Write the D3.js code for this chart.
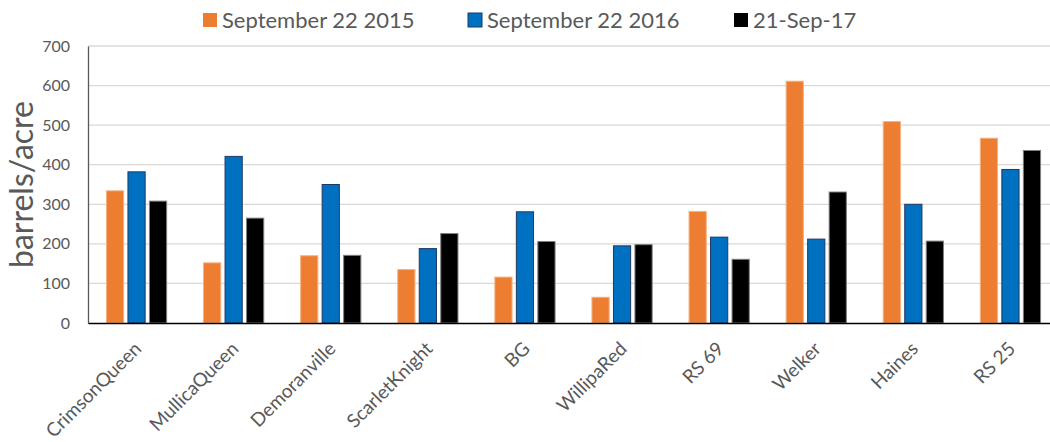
<!DOCTYPE html>
<html>
<head>
<meta charset="utf-8">
<script src="https://cdn.jsdelivr.net/npm/d3@7"></script>
<style>
  body { margin: 0; background: #fff; }
  text { font-family: Lato, "Open Sans", sans-serif; fill: #595959; }
</style>
</head>
<body>
<div id="chart"></div>
<script>
const categories = ["CrimsonQueen", "MullicaQueen", "Demoranville", "ScarletKnight", "BG",
  "WillipaRed", "RS 69", "Welker", "Haines", "RS 25"]
const seriesNames = ["September 22 2015", "September 22 2016", "21-Sep-17"]
const values2015 = [334, 152, 170, 135, 116, 65, 282, 611, 509, 467]
const values2016 = [382, 421, 350, 188, 281, 195, 217, 212, 300, 388]
const values2017 = [308, 265, 171, 226, 206, 198, 161, 331, 207, 436]
const yTicks = [0, 100, 200, 300, 400, 500, 600, 700]

const fills = ["#ED7D31", "#0070C0", "#000000"]
const strokes = ["#F4B183", "#1F3864", "#7F7F7F"]

const WIDTH = 1050, HEIGHT = 442
const MARGIN = { LEFT: 88, TOP: 46, BOTTOM: 119 }
const plotW = 971
const plotH = HEIGHT - MARGIN.TOP - MARGIN.BOTTOM

const data = categories.map((c, i) => ({
  cat: c,
  vals: [values2015[i], values2016[i], values2017[i]]
}))

const svg = d3.select("#chart").append("svg")
  .attr("width", WIDTH)
  .attr("height", HEIGHT)

const g = svg.append("g")
  .attr("transform", `translate(${MARGIN.LEFT}, ${MARGIN.TOP})`)

const x0 = d3.scaleBand()
  .domain(categories)
  .range([0, plotW])
  .paddingInner(0.38)
  .paddingOuter(0.19)

const x1 = d3.scaleBand()
  .domain(d3.range(seriesNames.length))
  .range([0, x0.bandwidth()])
  .paddingInner(0.2)

const y = d3.scaleLinear()
  .domain([0, 700])
  .range([plotH, 0])

// gridlines
g.append("g")
  .selectAll("line")
  .data(yTicks.filter(d => d > 0))
  .enter().append("line")
  .attr("x1", 0)
  .attr("x2", plotW)
  .attr("y1", d => y(d))
  .attr("y2", d => y(d))
  .attr("stroke", "#d9d9d9")
  .attr("stroke-width", 1.3)

// y axis
const yAxis = g.append("g")
  .call(d3.axisLeft(y).tickValues(yTicks).tickSize(0).tickPadding(18))
yAxis.select(".domain").attr("stroke", "#595959").attr("stroke-width", 1.3)
yAxis.selectAll("text")
  .attr("font-size", "16px")
  .style("font-family", "Lato, sans-serif")
  .attr("fill", "#595959")

// bars
const groups = g.selectAll(".grp")
  .data(data)
  .enter().append("g")
  .attr("class", "grp")
  .attr("transform", d => `translate(${x0(d.cat)}, 0)`)

groups.selectAll("rect")
  .data(d => d.vals.map((v, i) => ({ i, v })))
  .enter().append("rect")
  .attr("x", d => x1(d.i))
  .attr("y", d => y(d.v))
  .attr("width", x1.bandwidth())
  .attr("height", d => plotH - y(d.v))
  .attr("fill", d => fills[d.i])
  .attr("stroke", d => strokes[d.i])
  .attr("stroke-width", 1)

// x axis
const xAxis = g.append("g")
  .attr("transform", `translate(0, ${plotH})`)
  .call(d3.axisBottom(x0).tickSize(0).tickPadding(0))
xAxis.select(".domain").attr("stroke", "#000").attr("stroke-width", 1.3)
xAxis.selectAll("text")
  .attr("font-size", "19px")
  .style("font-family", "Lato, sans-serif")
  .attr("fill", "#595959")
  .attr("text-anchor", "end")
  .attr("dy", "0")
  .attr("transform", "translate(6, 27) rotate(-45)")

// y label
svg.append("text")
  .attr("transform", `translate(33, ${MARGIN.TOP + plotH / 2}) rotate(-90)`)
  .attr("text-anchor", "middle")
  .attr("font-size", "32px")
  .text("barrels/acre")

// legend
const legendX = [203, 468, 734]
const legend = svg.append("g")
seriesNames.forEach((name, i) => {
  const lg = legend.append("g").attr("transform", `translate(${legendX[i]}, 13)`)
  lg.append("rect")
    .attr("width", 14)
    .attr("height", 14)
    .attr("fill", fills[i])
    .attr("stroke", i === 1 ? "#1F3864" : "none")
  lg.append("text")
    .attr("x", 19)
    .attr("y", 15)
    .attr("font-size", "22px")
    .text(name)
})
</script>
</body>
</html>
